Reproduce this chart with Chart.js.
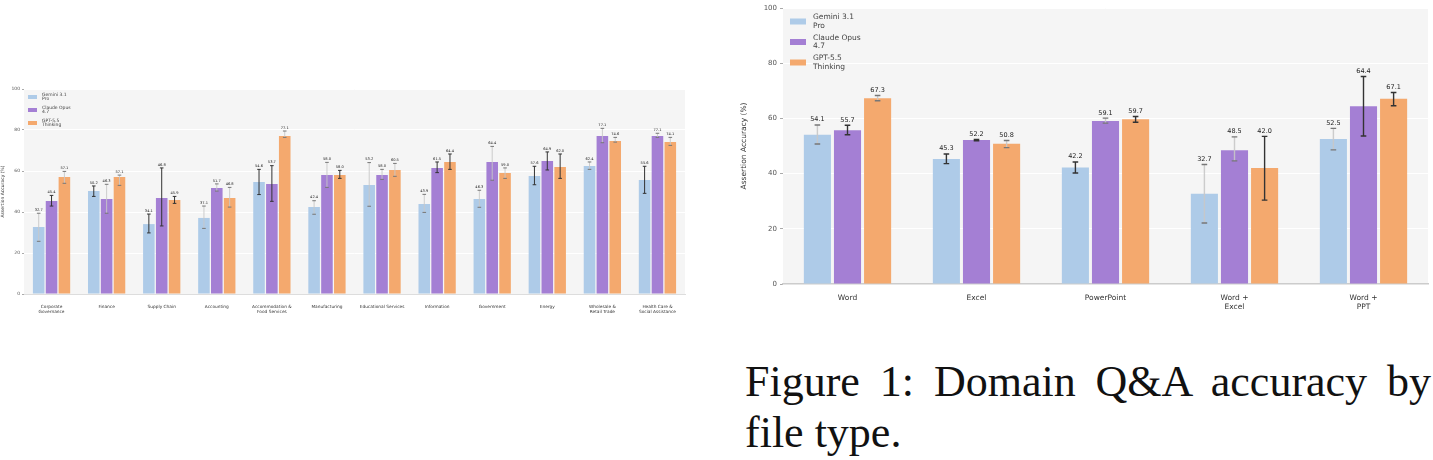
<!DOCTYPE html>
<html>
<head>
<meta charset="utf-8">
<script src="https://cdn.jsdelivr.net/npm/chart.js@4.4.1/dist/chart.umd.min.js"></script>
<style>
  body { margin: 0; background: #fff; width: 1433px; height: 460px; position: relative; overflow: hidden; }
  #domChart { position: absolute; left: 0; top: 80px; }
  #fileChart { position: absolute; left: 740px; top: 0; }
  .cap { position: absolute; left: 745px; font-family: "Liberation Serif", serif; font-size: 44px; line-height: 44px; color: #111; white-space: nowrap; }
  #cap1 { top: 360px; width: 686px; text-align: justify; text-align-last: justify; }
  #cap2 { top: 411px; }
</style>
</head>
<body>
<canvas id="domChart" width="695" height="240"></canvas>
<canvas id="fileChart" width="693" height="320"></canvas>
<div class="cap" id="cap1">Figure 1: Domain Q&amp;A accuracy by</div>
<div class="cap" id="cap2">file type.</div>

<script>
// ---- data: per-domain chart (left) ----
const domains = [['Corporate', 'Governance'], 'Finance', 'Supply Chain', 'Accounting',
  ['Accommodation &', 'Food Services'], 'Manufacturing', 'Educational Services', 'Information',
  'Government', 'Energy', ['Wholesale &', 'Retail Trade'], ['Health Care &', 'Social Assistance']];
const domGemini = [32.7, 50.2, 34.1, 37.1, 54.6, 42.4, 53.2, 43.9, 46.3, 57.6, 62.4, 55.6];
const domClaude = [45.4, 46.3, 46.8, 51.7, 53.7, 58.0, 58.0, 61.5, 64.4, 64.9, 77.1, 77.1];
const domGpt    = [57.1, 57.1, 45.9, 46.8, 77.1, 58.0, 60.5, 64.4, 59.0, 62.0, 74.6, 74.1];
const domGeminiLo = [25.7, 47.6, 29.8, 32.0, 48.5, 38.9, 42.8, 39.8, 42.3, 53.3, 60.8, 49.1];
const domGeminiHi = [39.4, 52.7, 39.0, 42.9, 60.8, 45.5, 64.1, 48.6, 50.6, 62.3, 64.4, 62.3];
const domClaudeLo = [42.9, 39.4, 33.2, 50.2, 45.2, 52.0, 55.9, 59.2, 55.5, 60.5, 73.8, 76.4];
const domClaudeHi = [48.1, 53.5, 61.5, 53.7, 62.6, 64.2, 60.8, 64.4, 72.0, 69.3, 80.8, 78.4];
const domGptLo    = [54.0, 53.0, 44.2, 42.4, 76.4, 56.4, 57.4, 60.8, 56.4, 56.4, 74.1, 72.5];
const domGptHi    = [59.8, 58.0, 47.6, 52.0, 79.5, 60.3, 63.7, 68.3, 61.5, 68.3, 76.4, 76.4];

// ---- data: per-file-type chart (right) ----
const fileTypes = ['Word', 'Excel', 'PowerPoint', ['Word +', 'Excel'], ['Word +', 'PPT']];
const ftGemini = [54.1, 45.3, 42.2, 32.7, 52.5];
const ftClaude = [55.7, 52.2, 59.1, 48.5, 64.4];
const ftGpt    = [67.3, 50.8, 59.7, 42.0, 67.1];
const ftGeminiLo = [50.7, 43.6, 40.2, 22.1, 48.6];
const ftGeminiHi = [57.6, 47.1, 44.2, 43.3, 56.4];
const ftClaudeLo = [54.1, 51.9, 58.3, 44.6, 53.6];
const ftClaudeHi = [57.5, 52.4, 60.1, 53.3, 75.2];
const ftGptLo    = [66.4, 49.4, 58.6, 30.4, 64.6];
const ftGptHi    = [68.3, 52.0, 60.7, 53.5, 69.4];

const modelNames = [['Gemini 3.1', 'Pro'], ['Claude Opus', '4.7'], ['GPT-5.5', 'Thinking']];
const modelColors = ['#aecbe8', '#a47fd4', '#f4a96e'];

// which error bars are drawn faint (style only)
const domFaint = [
  [1, 0, 0, 1, 0, 1, 1, 1, 1, 0, 1, 0],
  [0, 1, 0, 1, 0, 1, 1, 0, 1, 0, 1, 1],
  [1, 1, 0, 1, 1, 0, 1, 0, 1, 0, 1, 1]
];
const ftFaint = [
  [1, 0, 0, 1, 1],
  [0, 0, 1, 1, 0],
  [1, 1, 0, 0, 0]
];

const FONT = '"DejaVu Sans", sans-serif';

const plotBg = {
  id: 'plotBg',
  beforeDraw(chart) {
    const a = chart.chartArea, ctx = chart.ctx;
    ctx.save();
    ctx.fillStyle = '#f5f5f5';
    ctx.fillRect(a.left, a.top, a.right - a.left, a.bottom - a.top);
    ctx.restore();
  }
};

const errAndLabels = {
  id: 'errAndLabels',
  afterDatasetsDraw(chart, args, o) {
    const ctx = chart.ctx, ys = chart.scales.y;
    ctx.save();
    chart.data.datasets.forEach((ds, di) => {
      const meta = chart.getDatasetMeta(di);
      meta.data.forEach((bar, i) => {
        const x = bar.x;
        const yl = ys.getPixelForValue(ds.errLo[i]);
        const yh = ys.getPixelForValue(ds.errHi[i]);
        const faint = o.faint[di][i];
        ctx.lineWidth = o.lw;
        ctx.strokeStyle = faint ? 'rgba(200,200,200,0.9)' : '#333';
        ctx.beginPath();
        ctx.moveTo(x, yl); ctx.lineTo(x, yh);
        ctx.stroke();
        ctx.strokeStyle = faint ? '#777' : '#333';
        ctx.beginPath();
        ctx.moveTo(x - o.cap, yl); ctx.lineTo(x + o.cap, yl);
        ctx.moveTo(x - o.cap, yh); ctx.lineTo(x + o.cap, yh);
        ctx.stroke();
        ctx.fillStyle = '#222';
        ctx.font = o.fontSize + 'px ' + FONT;
        ctx.textAlign = 'center';
        ctx.textBaseline = 'bottom';
        ctx.fillText(ds.data[i].toFixed(1), x, yh - o.gap);
      });
    });
    ctx.restore();
  }
};

const boxLegend = {
  id: 'boxLegend',
  afterDraw(chart, args, o) {
    const ctx = chart.ctx, a = chart.chartArea;
    ctx.save();
    ctx.font = o.fontSize + 'px ' + FONT;
    ctx.textBaseline = 'middle';
    ctx.textAlign = 'left';
    modelNames.forEach((lines, k) => {
      const cy = a.top + o.y0 + k * o.step;
      ctx.fillStyle = modelColors[k];
      ctx.fillRect(a.left + o.x0, cy - o.bh / 2, o.bw, o.bh);
      ctx.fillStyle = '#444';
      ctx.fillText(lines[0], a.left + o.tx, cy - o.lh / 2);
      ctx.fillText(lines[1], a.left + o.tx, cy + o.lh / 2);
    });
    ctx.restore();
  }
};

function makeChart(id, cats, vals, lo, hi, s) {
  const datasets = vals.map((v, k) => ({
    label: modelNames[k].join(' '),
    data: v,
    errLo: lo[k],
    errHi: hi[k],
    backgroundColor: modelColors[k],
    borderWidth: 0,
    categoryPercentage: 0.7,
    barPercentage: 0.9
  }));
  return new Chart(document.getElementById(id), {
    type: 'bar',
    data: { labels: cats, datasets: datasets },
    plugins: [plotBg, errAndLabels, boxLegend],
    options: {
      responsive: false,
      animation: false,
      devicePixelRatio: 1,
      layout: { padding: { top: s.padTop, right: s.padRight, left: 0, bottom: 0 } },
      plugins: {
        legend: { display: false },
        tooltip: { enabled: false },
        errAndLabels: { faint: s.faint, lw: s.lw, cap: s.cap, fontSize: s.labelFont, gap: s.labelGap },
        boxLegend: s.legend
      },
      scales: {
        x: {
          grid: { display: false },
          border: { display: true, color: s.axisColor, width: s.axisWidth },
          ticks: { color: '#333', font: { size: s.xFont, family: FONT, lineHeight: 1.15 }, padding: s.xPad, maxRotation: 0, autoSkip: false },
          afterFit(scale) { scale.height = s.xHeight; }
        },
        y: {
          min: 0, max: 100,
          ticks: { stepSize: 20, color: '#555', font: { size: s.yFont, family: FONT }, padding: s.yPad },
          grid: { color: '#ffffff', lineWidth: 1, tickColor: '#aaa', tickLength: s.tickLen },
          border: { display: false },
          title: { display: true, text: 'Assertion Accuracy (%)', color: '#333', font: { size: s.titleFont, family: FONT }, padding: 0 },
          afterFit(scale) { scale.width = s.yWidth; }
        }
      }
    }
  });
}

makeChart('domChart', domains, [domGemini, domClaude, domGpt],
  [domGeminiLo, domClaudeLo, domGptLo], [domGeminiHi, domClaudeHi, domGptHi], {
    padTop: 9, padRight: 10, xHeight: 26, yWidth: 24, xFont: 4.3, yFont: 4.5, titleFont: 4.5,
    xPad: 2, yPad: 2, tickLen: 2, axisColor: '#dddddd', axisWidth: 1,
    faint: domFaint, lw: 1, cap: 1.8, labelFont: 3.6, labelGap: 1.5,
    legend: { x0: 4, y0: 8, step: 13, bw: 9, bh: 4, tx: 18, fontSize: 4.5, lh: 4.5 }
  });

makeChart('fileChart', fileTypes, [ftGemini, ftClaude, ftGpt],
  [ftGeminiLo, ftClaudeLo, ftGptLo], [ftGeminiHi, ftClaudeHi, ftGptHi], {
    padTop: 8, padRight: 5, xHeight: 36, yWidth: 43, xFont: 7.5, yFont: 7, titleFont: 7.5,
    xPad: 2, yPad: 3, tickLen: 3, axisColor: '#cccccc', axisWidth: 1.5,
    faint: ftFaint, lw: 1.4, cap: 2.8, labelFont: 6.5, labelGap: 2,
    legend: { x0: 7, y0: 13.5, step: 20.5, bw: 16, bh: 6, tx: 30, fontSize: 7.5, lh: 8.5 }
  });
</script>
</body>
</html>
